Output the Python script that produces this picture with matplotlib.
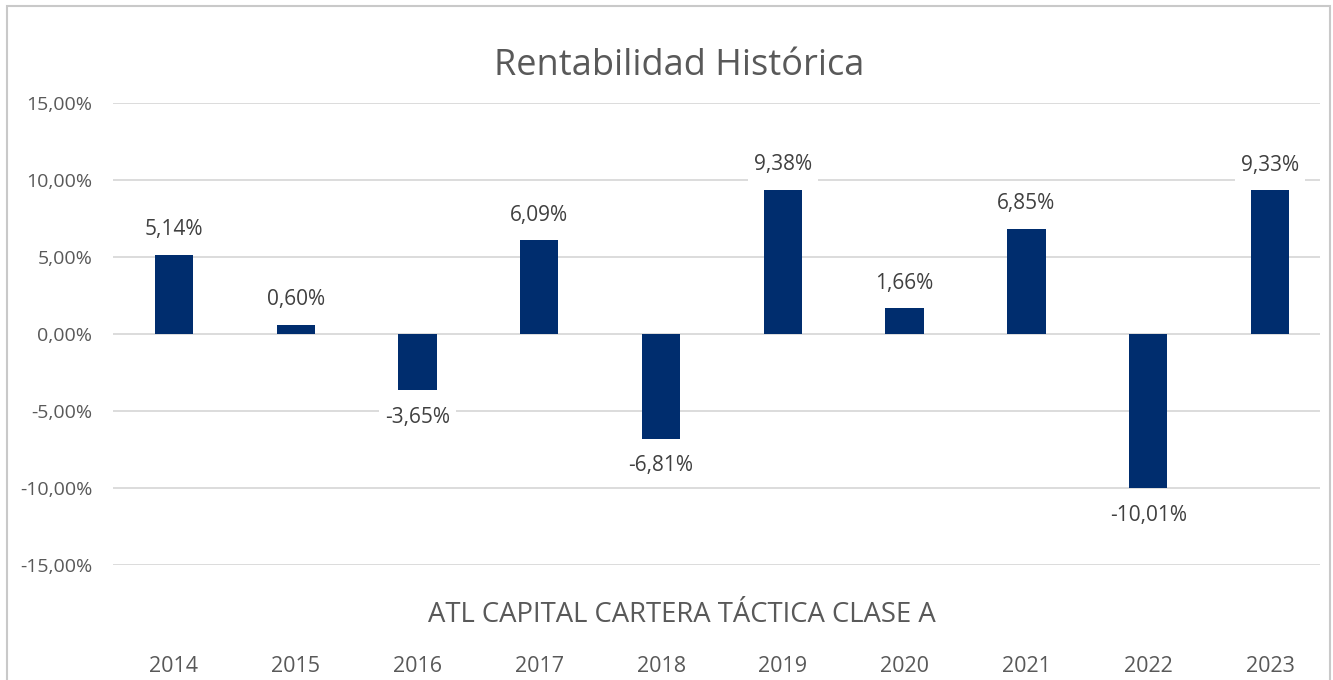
import matplotlib
matplotlib.use("Agg")
import matplotlib.pyplot as plt
from matplotlib.patches import Rectangle
from matplotlib.transforms import blended_transform_factory

years = ["2014", "2015", "2016", "2017", "2018", "2019", "2020", "2021", "2022", "2023"]
returns = [5.14, 0.60, -3.65, 6.09, -6.81, 9.38, 1.66, 6.85, -10.01, 9.33]
yticks = [-15, -10, -5, 0, 5, 10, 15]
title = "Rentabilidad Histórica"
xtitle = "ATL CAPITAL CARTERA TÁCTICA CLASE A"

FONT = ["Open Sans", "DejaVu Sans"]
plt.rcParams["font.family"] = FONT

W, H = 1333, 680
fig = plt.figure(figsize=(W / 100, H / 100), dpi=100)
fig.patch.set_facecolor("white")

# outer border
fig.patches.append(Rectangle((7 / W, -0.05), (1330 - 7) / W, (H - 6) / H + 0.05,
                             transform=fig.transFigure, fill=False,
                             edgecolor="#c9c9c9", linewidth=1.5))

left, right, top, bottom = 113, 1320, 103, 565
ax = fig.add_axes([left / W, (H - bottom) / H, (right - left) / W, (bottom - top) / H])
ax.set_ylim(-15, 15)
ax.set_xlim(-0.5, len(years) - 1 + 0.41)
ax.set_yticks(yticks)
ax.set_yticklabels([f"{v:.2f}%".replace(".", ",") for v in yticks],
                   color="#595959", fontsize=14)
ax.tick_params(axis="y", length=0, pad=15)
ax.set_xticks([])
for s in ax.spines.values():
    s.set_visible(False)
ax.grid(axis="y", color="#d9d9d9", linewidth=1.3)
ax.set_axisbelow(True)

x = list(range(len(years)))
ax.bar(x, returns, width=0.315, color="#002D6E", zorder=3)

for xi, v in zip(x, returns):
    lbl = f"{v:.2f}%".replace(".", ",")
    off = 25 if v >= 0 else -27
    ax.annotate(lbl, (xi, v), xytext=(0, off * 0.72), textcoords="offset points",
                ha="center", va="center", fontsize=15, color="#404040", zorder=4,
                bbox=dict(boxstyle="square,pad=0.3", facecolor="white", edgecolor="none"))

# year labels
trans = blended_transform_factory(ax.transData, fig.transFigure)
for xi, yr in zip(x, years):
    ax.text(xi, (H - 666) / H, yr, transform=trans, ha="center", va="center",
            fontsize=15.5, color="#595959")

fig.text(682 / W, (H - 615) / H, xtitle, ha="center", va="center",
         fontsize=19.8, color="#595959")
fig.text(679 / W, (H - 66) / H, title, ha="center", va="center",
         fontsize=26, color="#595959")

fig.savefig("out.png", dpi=100, facecolor="white")
